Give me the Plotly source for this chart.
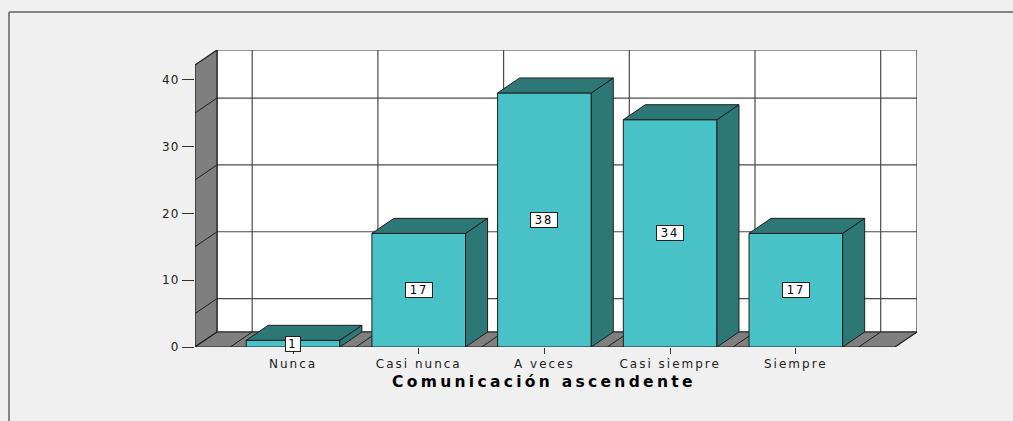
import plotly.graph_objects as go

# ---- data -------------------------------------------------------------
categories = ["Nunca", "Casi nunca", "A veces", "Casi siempre", "Siempre"]
counts = [1, 17, 38, 34, 17]
y_ticks = [0, 10, 20, 30, 40]
wall_grid = [5, 15, 25, 35]          # lines painted on the side / back walls
axis_title = "Comunicación ascendente"

# ---- 3-D box geometry (axis units) -------------------------------------
W, H = 1013, 421
M_L, M_R, M_T, M_B = 195, 96, 50, 74
PX_PER_CAT = 125.7
PX_PER_UNIT = 6.685
DX = 22 / PX_PER_CAT                 # depth offset along x
DY = 15 / PX_PER_UNIT                # depth offset along y
BAR_W = 0.745
X0 = -0.78
X1 = X0 + (W - M_L - M_R) / PX_PER_CAT
Y1 = (H - M_T - M_B) / PX_PER_UNIT

FRONT = "#48C2C6"
SHADE = "#2E7777"
WALL = "#7F7F7F"
EDGE = "#1E1E1E"
GRID = "#4A4A4A"
PAPER = "#F0F0F0"

idx = list(range(len(categories)))
bounds = [i - 0.5 for i in idx] + [idx[-1] + 0.5]


def poly(pts):
    return "M " + " L ".join(f"{x},{y}" for x, y in pts) + " Z"


shapes = []
# back wall
shapes.append(dict(type="rect", x0=X0 + DX, x1=X1, y0=DY, y1=Y1,
                   fillcolor="white", line=dict(color="#333", width=1.2),
                   layer="below"))
for v in wall_grid:
    shapes.append(dict(type="line", x0=X0 + DX, x1=X1, y0=v + DY, y1=v + DY,
                       line=dict(color=GRID, width=1.2), layer="below"))
for b in bounds:
    shapes.append(dict(type="line", x0=b + DX, x1=b + DX, y0=DY, y1=Y1,
                       line=dict(color=GRID, width=1.2), layer="below"))
# left wall
shapes.append(dict(type="path",
                   path=poly([(X0, 0), (X0 + DX, DY), (X0 + DX, Y1), (X0, Y1 - DY)]),
                   fillcolor=WALL, line=dict(color=EDGE, width=1.2), layer="below"))
for v in wall_grid:
    shapes.append(dict(type="line", x0=X0, x1=X0 + DX, y0=v, y1=v + DY,
                       line=dict(color=EDGE, width=1), layer="below"))
# floor
shapes.append(dict(type="path",
                   path=poly([(X0, 0), (X1 - DX, 0), (X1, DY), (X0 + DX, DY)]),
                   fillcolor=WALL, line=dict(color=EDGE, width=1.2), layer="below"))
for b in bounds:
    shapes.append(dict(type="line", x0=b, x1=b + DX, y0=0, y1=DY,
                       line=dict(color=EDGE, width=1), layer="below"))

# side and top faces of each bar
for i, v in zip(idx, counts):
    l, r = i - BAR_W / 2, i + BAR_W / 2
    shapes.append(dict(type="path",
                       path=poly([(r, 0), (r + DX, DY), (r + DX, v + DY), (r, v)]),
                       fillcolor=SHADE, line=dict(color=EDGE, width=1), layer="above"))
    shapes.append(dict(type="path",
                       path=poly([(l, v), (l + DX, v + DY), (r + DX, v + DY), (r, v)]),
                       fillcolor=SHADE, line=dict(color=EDGE, width=1), layer="above"))

# outer frame of the chart panel (top and left edges)
pw, ph = W - M_L - M_R, H - M_T - M_B
fx = (9 - M_L) / pw
fy = 1 + (M_T - 12) / ph
shapes.append(dict(type="line", xref="paper", yref="paper", x0=fx, x1=(W + 20 - M_L) / pw,
                   y0=fy, y1=fy, line=dict(color="#858585", width=2)))
shapes.append(dict(type="line", xref="paper", yref="paper", x0=fx, x1=fx,
                   y0=fy, y1=-(M_B + 20) / ph, line=dict(color="#858585", width=2)))

# value labels in boxes at the middle of each bar
annotations = [
    dict(x=i, y=v / 2, text=str(v), showarrow=False, xref="x", yref="y",
         font=dict(family="DejaVu Sans", size=11.5, color="black"),
         bgcolor="white", bordercolor="#222", borderwidth=1, borderpad=1,
         width=12 * len(str(v)), height=12)
    for i, v in zip(idx, counts)
]
# axis title, centred under the middle category
annotations.append(dict(
    x=idx[len(idx) // 2], xref="x", y=-(382 - (H - M_B)) / ph, yref="paper",
    yanchor="middle", text=axis_title, showarrow=False,
    font=dict(family="DejaVu Sans", size=15.5, color="black", weight="bold"),
))

fig = go.Figure(go.Bar(
    x=idx, y=counts, width=BAR_W,
    marker=dict(color=FRONT, line=dict(color=EDGE, width=1)),
    hoverinfo="skip", showlegend=False,
))

fig.update_layout(
    width=W, height=H,
    margin=dict(l=M_L, r=M_R, t=M_T, b=M_B, pad=0),
    paper_bgcolor=PAPER, plot_bgcolor=PAPER,
    shapes=shapes, annotations=annotations,
    font=dict(family="DejaVu Sans", size=12, color="#222"),
)
fig.update_xaxes(
    range=[X0, X1], tickvals=idx, ticktext=categories,
    ticks="outside", ticklen=6, tickcolor="#333", tickwidth=1.2,
    showgrid=False, zeroline=False, showline=False,
)
fig.update_yaxes(
    range=[0, Y1], tickvals=y_ticks,
    ticks="outside", ticklen=12, tickcolor="#333", tickwidth=1.2,
    showgrid=False, zeroline=False, showline=False,
)

spacing_js = """
document.body.style.margin = '0';
document.body.style.overflow = 'hidden';
document.body.style.background = '#F0F0F0';
var gd = document.getElementById('{plot_id}');
function spread(sel, ls) {
  gd.querySelectorAll(sel).forEach(function (t) { t.style.letterSpacing = ls + 'px'; });
}
spread('.xtick text', 2.0);
spread('.ytick text', 1.2);
gd.querySelectorAll('.annotation-text').forEach(function (t) {
  t.style.letterSpacing = (t.textContent.length > 4 ? 3.3 : 2.0) + 'px';
});
"""

fig.write_html("out.html", post_script=spacing_js, config={"displayModeBar": False})
